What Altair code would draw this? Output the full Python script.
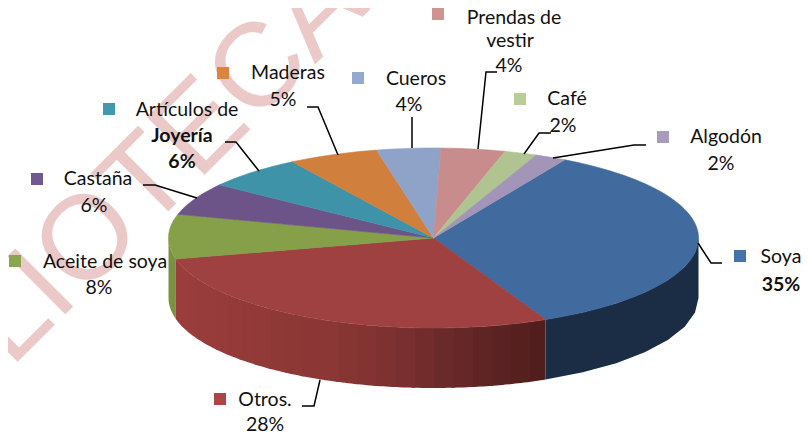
import math
import numpy as np
import altair as alt

# ---- chart values ----
categories = ["Soya", "Otros.", "Aceite de soya", "Castaña", "Artículos de Joyería",
              "Maderas", "Cueros", "Prendas de vestir", "Café", "Algodón"]
shares = [34.8, 28.2, 8.0, 5.8, 6.0, 5.5, 3.9, 3.9, 2.0, 1.9]
top_colors = ["#416a9e", "#9e4140", "#85a049", "#6c5489", "#3f93a9",
              "#d07f3c", "#8fa2c8", "#c78c8b", "#b0c492", "#a295b7"]
legend_colors = ["#4573a7", "#aa4644", "#89a54e", "#71588f", "#4198af",
                 "#db843d", "#93a9cf", "#d19392", "#b9cd96", "#a99bbd"]

# ---- layout (picture coordinates) ----
CX, CY, RX, RY, DEPTH = 433.5, 238, 265, 90, 60
START = 29.7
W, H = 793, 429

def pt(angle, dy=0):
    a = math.radians(angle)
    return [CX + RX * math.sin(a), CY - RY * math.cos(a) + dy]

def wedge(a0, a1):
    n = max(2, int((a1 - a0) / 1.5))
    return [[CX, CY]] + [pt(a) for a in np.linspace(a0, a1, n)] + [[CX, CY]]

def strip(a0, a1):
    angs = np.linspace(a0, a1, 8)
    return [pt(a) for a in angs] + [pt(a, DEPTH) for a in angs[::-1]] + [pt(a0)]

def feat(ring, fill):
    return {"type": "Feature", "geometry": {"type": "Polygon", "coordinates": [ring]},
            "properties": {"fill": fill}}

spans = [s * 3.6 for s in shares]
edges = [START]
for s in spans:
    edges.append(edges[-1] + s)

# side wall shading
red_x = [177, 330, 400, 470, 545]
red_rgb = [(155, 62, 61), (138, 55, 53), (122, 48, 48), (98, 38, 38), (80, 30, 28)]

def red_at(x):
    c = [np.interp(x, red_x, [r[i] for r in red_rgb]) for i in range(3)]
    return "#%02x%02x%02x" % tuple(int(v) for v in c)

side = []
side.append(feat(strip(90, edges[1]), "#1b2c45"))
side.append(feat(strip(edges[2], 270), "#799242"))
red_angles = np.linspace(edges[1], edges[2], 25)
# painted right to left, every band reaching under its neighbour so no seam shows
for n, (a0, a1) in enumerate(zip(red_angles[:-1], red_angles[1:])):
    c = red_at(pt((a0 + a1) / 2)[0])
    side.append(feat(strip(max(edges[1], a0 - 0.6), a1), c))
tops = [feat(wedge(edges[i], edges[i + 1]), c) for i, c in enumerate(top_colors)]

X = alt.X("x:Q", scale=alt.Scale(domain=[8, 8 + W], range=[0, W]), axis=None)
Y = alt.Y("y:Q", scale=alt.Scale(domain=[8, 8 + H], range=[0, H]), axis=None)

# watermark
mark_wm = alt.Chart(alt.Data(values=[{"x": 123, "y": 256.5, "t": "BIBLIOTECA"}])).mark_text(
    font="Liberation Sans", fontSize=119, angle=315, align="center", baseline="alphabetic",
    color="#ecc9c9", clip=True
).encode(x=X, y=Y, text="t:N")

proj = dict(type="identity", scale=1, translate=[-8, -8])
side_layer = alt.Chart(alt.Data(values=side)).mark_geoshape(strokeWidth=0).encode(
    fill=alt.Fill("properties.fill:N", scale=None)).project(**proj)
top_layer = alt.Chart(alt.Data(values=tops)).mark_geoshape(strokeWidth=0.6).encode(
    fill=alt.Fill("properties.fill:N", scale=None),
    stroke=alt.Stroke("properties.fill:N", scale=None)).project(**proj)

# leader lines
leaders = [
    [(307, 107), (318, 107), (338, 155)],
    [(225, 142), (236, 142), (259, 171)],
    [(143, 185), (155, 185), (197, 198)],
    [(412, 117), (412, 148)],
    [(497, 72), (486, 72), (478, 149)],
    [(551, 133), (539, 133), (524, 154)],
    [(646, 145), (634, 145), (553, 158)],
    [(722, 263), (711, 263), (698, 243)],
    [(302, 406), (314, 406), (320, 380)],
]
rows = [{"x": p[0], "y": p[1], "k": k, "i": i}
        for k, l in enumerate(leaders) for i, p in enumerate(l)]
lines = alt.Chart(alt.Data(values=rows)).mark_line(color="#000000", strokeWidth=1.5).encode(
    x=X, y=Y, detail="k:N", order="i:Q")

# legend keys
key_pos = [(740, 256), (220, 399), (15, 261), (37, 179), (109, 109),
           (223, 73), (358, 78), (438, 14), (520, 99), (663, 137)]
keys = alt.Chart(alt.Data(values=[
    {"x": p[0], "y": p[1], "c": c} for p, c in zip(key_pos, legend_colors)
])).mark_square(size=144, opacity=1).encode(
    x=X, y=Y, fill=alt.Fill("c:N", scale=None), stroke=alt.value(None))

# labels
labels = [
    ("Soya", 781, 257, "normal"), ("35%", 781, 285, "bold"),
    ("Otros.", 265, 400, "normal"), ("28%", 265, 425, "normal"),
    ("Aceite de soya", 105, 262, "normal"), ("8%", 99, 288, "normal"),
    ("Castaña", 98, 179, "normal"), ("6%", 94, 206, "normal"),
    ("Artículos de", 187, 110, "normal"), ("Joyería", 182, 136, "bold"), ("6%", 182, 162, "bold"),
    ("Maderas", 288, 73, "normal"), ("5%", 283, 100, "normal"),
    ("Cueros", 416, 79, "normal"), ("4%", 409, 105, "normal"),
    ("Prendas de", 514, 18, "normal"), ("vestir", 510, 41, "normal"), ("4%", 509, 66, "normal"),
    ("Café", 567, 99, "normal"), ("2%", 563, 126, "normal"),
    ("Algodón", 726, 137, "normal"), ("2%", 721, 164, "normal"),
]
def text_layer(weight):
    vals = [{"x": x, "y": y, "t": t} for t, x, y, w in labels if w == weight]
    return alt.Chart(alt.Data(values=vals)).mark_text(
        font="Lato", fontSize=19.5, fontWeight=weight, color="#111111",
        align="center", baseline="middle"
    ).encode(x=X, y=Y, text="t:N")

chart = alt.layer(mark_wm, side_layer, top_layer, lines, keys,
                  text_layer("normal"), text_layer("bold")).resolve_scale(
    x="shared", y="shared", fill="independent", stroke="independent"
).properties(
    width=W, height=H, padding=0, autosize=alt.AutoSizeParams(type="none")
).configure_view(stroke=None)

chart.save("out.html", embed_options={"renderer": "svg", "actions": False})
